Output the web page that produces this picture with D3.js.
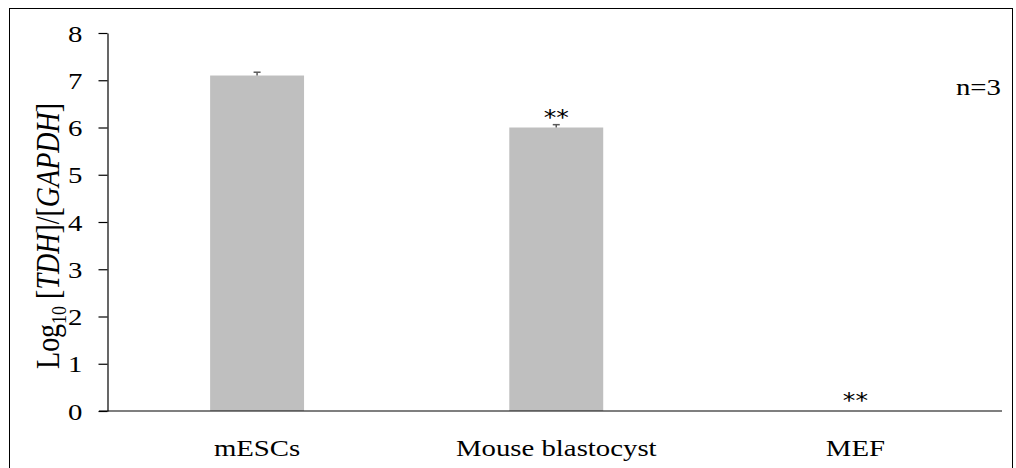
<!DOCTYPE html>
<html>
<head>
<meta charset="utf-8">
<script src="https://cdn.jsdelivr.net/npm/d3@7"></script>
<style>
  html, body { margin: 0; padding: 0; background: #fff; }
  svg { display: block; }
  text { font-family: "Liberation Serif", "Times New Roman", serif; fill: #000; }
</style>
</head>
<body>
<svg id="chart" width="1016" height="468"></svg>
<script>
// Expression of TDH relative to GAPDH (log10), mean ± error, n = 3
const categories = ["mESCs", "Mouse blastocyst", "MEF"];
const values = [7.1, 6.0, 0];
const errors = [0.07, 0.06, 0];
const significance = ["", "**", "**"];
const yTicks = [0, 1, 2, 3, 4, 5, 6, 7, 8];

const SERIF = "'Liberation Serif', 'Times New Roman', serif";
const STRETCH = 1.2;          // glyphs are drawn slightly wide
const svg = d3.select("#chart");
const W = 1016, H = 468;
const margin = { left: 107.5, right: 11, top: 33, bottom: 57 };
const plotBottom = H - margin.bottom;

// place a text element at (px, py) with horizontally widened glyphs
function wide(sel, px, py) {
  sel.attr("x", 0).attr("y", 0)
    .attr("transform", (d, i) => {
      const X = typeof px === "function" ? px(d, i) : px;
      const Y = typeof py === "function" ? py(d, i) : py;
      return `translate(${X},${Y}) scale(${STRETCH},1)`;
    });
  return sel;
}

// outer frame
svg.append("rect")
  .attr("x", 9.5).attr("y", 8.5)
  .attr("width", 1003).attr("height", 470)
  .attr("fill", "none").attr("stroke", "#000").attr("stroke-width", 1);

const x = d3.scaleBand()
  .domain(categories)
  .range([margin.left, W - margin.right])
  .paddingInner(0.686)
  .paddingOuter(0.343);

const y = d3.scaleLinear()
  .domain([0, 8])
  .range([plotBottom, margin.top]);

// bars
svg.append("g").selectAll("rect")
  .data(categories)
  .join("rect")
  .attr("x", d => x(d))
  .attr("width", x.bandwidth())
  .attr("y", (d, i) => y(values[i]))
  .attr("height", (d, i) => y(0) - y(values[i]))
  .attr("fill", "#bfbfbf");

// error bars
const eb = svg.append("g").attr("stroke", "#595959").attr("stroke-width", 1.5);
categories.forEach((c, i) => {
  if (errors[i] <= 0) return;
  const cx = x(c) + x.bandwidth() / 2;
  eb.append("line").attr("x1", cx).attr("x2", cx)
    .attr("y1", y(values[i])).attr("y2", y(values[i] + errors[i]));
  eb.append("line").attr("x1", cx - 3.5).attr("x2", cx + 3.5)
    .attr("y1", y(values[i] + errors[i])).attr("y2", y(values[i] + errors[i]));
});

// significance marks
svg.append("g").selectAll("text")
  .data(categories)
  .join("text")
  .call(wide, d => x(d) + x.bandwidth() / 2, (d, i) => y(values[i]) - 3)
  .attr("text-anchor", "middle")
  .style("font-family", "'DejaVu Sans', sans-serif")
  .style("font-size", "21px")
  .text((d, i) => significance[i]);

// y axis
const yAxis = svg.append("g")
  .attr("transform", `translate(${margin.left},0)`)
  .call(d3.axisLeft(y).tickValues(yTicks).tickFormat(d3.format("d")).tickSize(9).tickSizeOuter(0))
  .attr("font-family", null)
  .attr("font-size", null);
yAxis.select(".domain").attr("stroke", "#000").attr("stroke-width", 1.2);
yAxis.selectAll(".tick line").attr("stroke", "#000").attr("stroke-width", 1.2);
yAxis.selectAll(".tick text")
  .call(wide, -25, 0)
  .attr("dy", "0.34em")
  .style("font-size", "24px")
  .style("font-family", SERIF);

// x axis baseline (extends slightly left of the y axis)
svg.append("line")
  .attr("x1", 99).attr("x2", 1002)
  .attr("y1", plotBottom).attr("y2", plotBottom)
  .attr("stroke", "#000").attr("stroke-width", 1.2);

// category labels
svg.append("g").selectAll("text")
  .data(categories)
  .join("text")
  .call(wide, d => x(d) + x.bandwidth() / 2, plotBottom + 45)
  .attr("text-anchor", "middle")
  .style("font-family", SERIF)
  .style("font-size", "24px")
  .text(d => d);

// y axis title
const yTitle = svg.append("text")
  .attr("transform", `translate(59,236) rotate(-90) scale(1,${STRETCH})`)
  .attr("text-anchor", "middle")
  .style("font-family", SERIF)
  .style("font-size", "28px");
yTitle.append("tspan").text("Log");
yTitle.append("tspan").attr("dy", 6).style("font-size", "18px").text("10");
yTitle.append("tspan").attr("dy", -6).text(" [");
yTitle.append("tspan").style("font-style", "italic").text("TDH");
yTitle.append("tspan").text("]/[");
yTitle.append("tspan").style("font-style", "italic").text("GAPDH");
yTitle.append("tspan").text("]");

// sample size note
svg.append("text")
  .call(wide, 1001, 95)
  .attr("text-anchor", "end")
  .style("font-family", SERIF)
  .style("font-size", "24px")
  .text("n=3");
</script>
</body>
</html>
